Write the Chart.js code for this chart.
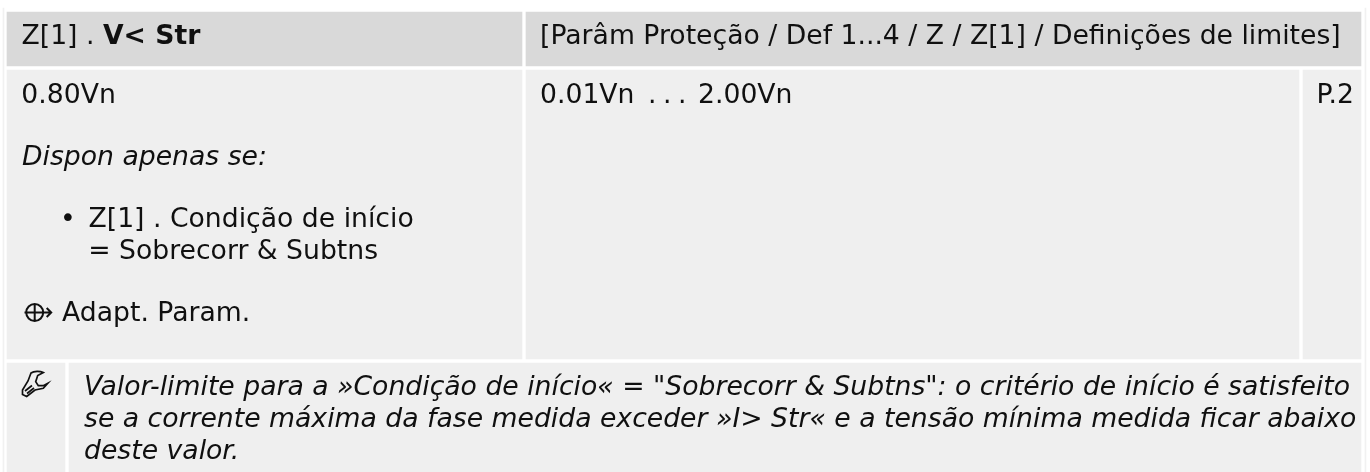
<!DOCTYPE html>
<html>
<head>
<meta charset="utf-8">
<style>
  body { margin: 0; background: #fff; }
  #chart { display: block; }
</style>
<script src="https://cdn.jsdelivr.net/npm/chart.js@4/dist/chart.umd.min.js"></script>
</head>
<body>
<canvas id="chart" width="1370" height="472"></canvas>
<script>
// texts of the table
const headerName = 'Z[1] . ';
const headerNameBold = 'V< Str';
const headerPath = '[Parâm Proteção / Def 1...4 / Z / Z[1] / Definições de limites]';
const defaultValue = '0.80Vn';
const rangeMin = '0.01Vn';
const rangeDots = '. . .';
const rangeMax = '2.00Vn';
const paramType = 'P.2';
const onlyIf = 'Dispon apenas se:';
const conditionLines = ['Z[1] . Condição de início', '= Sobrecorr & Subtns'];
const adaptText = 'Adapt. Param.';
const noteLines = [
    'Valor-limite para a »Condição de início« = "Sobrecorr & Subtns": o critério de início é satisfeito',
    'se a corrente máxima da fase medida exceder »I> Str« e a tensão mínima medida ficar abaixo',
    'deste valor.'
];

// table grid, in axis units: [from, to] per cell
const headerCells = [[7, 522], [526, 1361]];
const bodyCells = [[7, 522], [526, 1299], [1303, 1361]];
const noteCells = [[7, 65], [69, 1361]];
const edgeLines = [[3, 4], [1365, 1366]];

const FONT = '"DejaVu Sans"';
const SIZE = 26.67;
const INK = '#101010';

function row(cells, top, bottom, color) {
    return {
        data: cells.map(c => ({ x: c, y: (top + bottom) / 2 })),
        barThickness: bottom - top,
        backgroundColor: color,
        borderWidth: 0
    };
}

const tablePlugin = {
    id: 'tablePlugin',
    afterDatasetsDraw(chart) {
        const ctx = chart.ctx;
        const sx = chart.scales.x, sy = chart.scales.y;
        ctx.save();
        ctx.fillStyle = INK;
        ctx.textBaseline = 'alphabetic';

        function text(str, x, y, style) {
            ctx.font = (style || '') + ' ' + SIZE + 'px ' + FONT;
            ctx.fillText(str, sx.getPixelForValue(x), sy.getPixelForValue(y));
            return x + ctx.measureText(str).width;
        }

        const after = text(headerName, 21.5, 44);
        text(headerNameBold, after, 44, 'bold');
        text(headerPath, 540, 44);

        text(defaultValue, 21.3, 103);
        text(rangeMin, 540, 103);
        ctx.letterSpacing = '-1px';
        text(rangeDots, 648, 103);
        ctx.letterSpacing = '0px';
        text(rangeMax, 698, 103);
        text(paramType, 1316.5, 103);

        text(onlyIf, 22, 165, 'italic');
        text('•', 60, 227);
        text(conditionLines[0], 88.5, 227);
        text(conditionLines[1], 88.2, 259);
        text(adaptText, 62, 321);

        noteLines.forEach((line, i) => text(line, 84, 395 + i * 32, 'italic'));

        // adapt icon
        ctx.strokeStyle = INK;
        ctx.lineWidth = 2;
        ctx.beginPath();
        ctx.arc(34.7, 312.5, 8.5, 0, Math.PI * 2);
        ctx.moveTo(24.5, 312.5); ctx.lineTo(51, 312.5);
        ctx.moveTo(34.7, 304); ctx.lineTo(34.7, 321);
        ctx.moveTo(46.7, 308); ctx.lineTo(51.2, 312.5); ctx.lineTo(46.7, 317);
        ctx.stroke();

        // wrench icon
        ctx.lineWidth = 1.7;
        ctx.beginPath();
        ctx.moveTo(43.3, 372.5);
        ctx.bezierCurveTo(40, 371, 34, 371, 31, 373);
        ctx.lineTo(28, 381);
        ctx.lineTo(22.5, 390);
        ctx.lineTo(22.5, 394.5);
        ctx.lineTo(26.7, 396.5);
        ctx.lineTo(35, 390);
        ctx.lineTo(43.3, 388.3);
        ctx.lineTo(47.8, 383.3);
        ctx.lineTo(43.3, 385.7);
        ctx.lineTo(38.3, 385.7);
        ctx.lineTo(35.7, 381.7);
        ctx.lineTo(37.7, 375.5);
        ctx.closePath();
        ctx.moveTo(25, 391); ctx.lineTo(32, 385.5);
        ctx.moveTo(27, 393.5); ctx.lineTo(34, 388);
        ctx.stroke();
        ctx.restore();
    }
};

new Chart(document.getElementById('chart'), {
    type: 'bar',
    data: {
        datasets: [
            row(edgeLines, 8, 472, '#f1f1f1'),
            row(headerCells, 12, 66, '#d9d9d9'),
            row(bodyCells, 70, 359, '#efefef'),
            row(noteCells, 363, 472, '#efefef')
        ]
    },
    options: {
        indexAxis: 'y',
        responsive: false,
        animation: false,
        layout: { padding: 0 },
        datasets: { bar: { grouped: false } },
        plugins: { legend: { display: false }, tooltip: { enabled: false } },
        scales: {
            x: { type: 'linear', min: 0, max: 1370, display: false },
            y: { type: 'linear', min: 0, max: 472, reverse: true, offset: false, display: false }
        }
    },
    plugins: [tablePlugin]
});
</script>
</body>
</html>
